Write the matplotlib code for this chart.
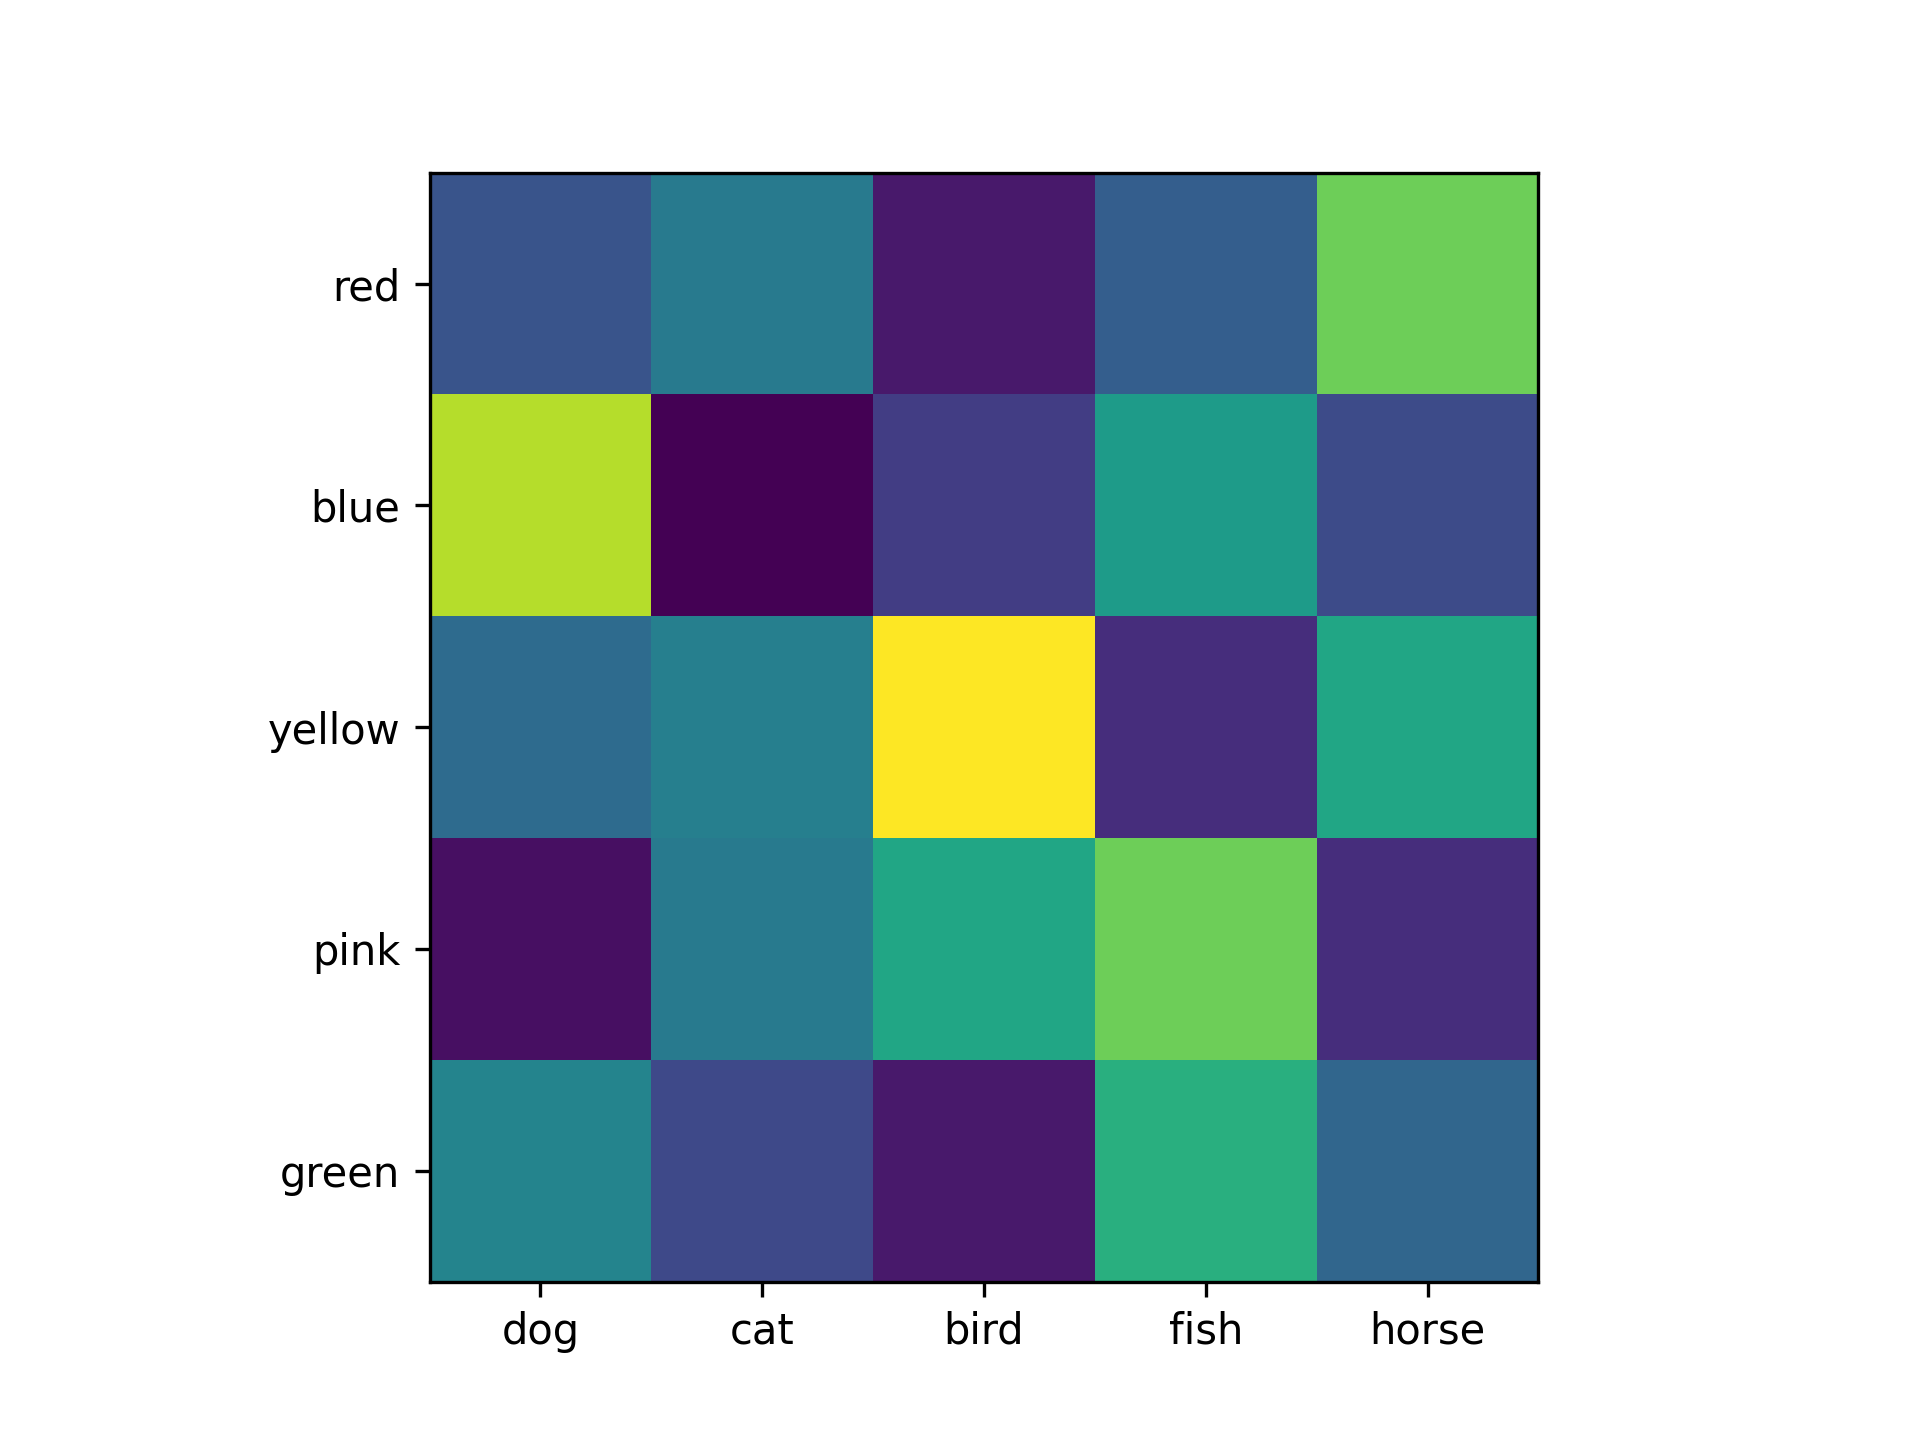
import numpy as np
import matplotlib
matplotlib.use("Agg")
import matplotlib.pyplot as plt

animals = ["dog", "cat", "bird", "fish", "horse"]
colors = ["red", "blue", "yellow", "pink", "green"]

values = np.array([
    [0.26, 0.41, 0.07, 0.30, 0.78],
    [0.89, 0.00, 0.18, 0.55, 0.23],
    [0.35, 0.43, 1.00, 0.13, 0.59],
    [0.04, 0.41, 0.59, 0.78, 0.13],
    [0.45, 0.22, 0.07, 0.63, 0.33],
])

fig, ax = plt.subplots(figsize=(6.4, 4.8), dpi=300)
ax.imshow(values, cmap="viridis")
ax.set_xticks(range(len(animals)), labels=animals)
ax.set_yticks(range(len(colors)), labels=colors)

plt.savefig("out.png")
